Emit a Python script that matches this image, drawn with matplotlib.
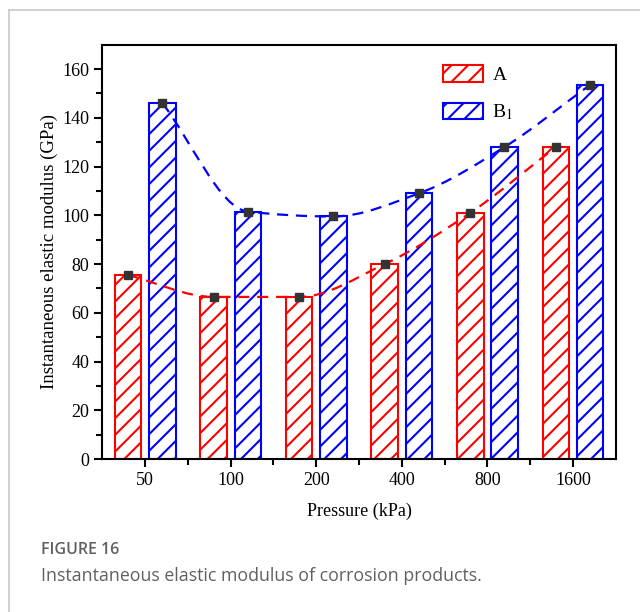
import numpy as np
import matplotlib
matplotlib.use("Agg")
import matplotlib.pyplot as plt
from matplotlib.path import Path
from matplotlib.patches import PathPatch
from matplotlib.lines import Line2D

# data
pressures = ["50", "100", "200", "400", "800", "1600"]
modulus_A = [75.5, 66.5, 66.5, 80.0, 101.0, 128.0]
modulus_B1 = [146.0, 101.5, 99.5, 109.0, 128.0, 153.5]

plt.rcParams["font.family"] = ["Liberation Serif", "DejaVu Serif"]
plt.rcParams["mathtext.fontset"] = "stix"
plt.rcParams["hatch.linewidth"] = 1.5


def smooth_path(xs, ys):
    # monotone cubic curve through the points, as bezier segments
    xs = np.asarray(xs, float)
    ys = np.asarray(ys, float)
    h = np.diff(xs)
    d = np.diff(ys) / h
    m = np.zeros(len(xs))
    m[0], m[-1] = d[0], d[-1]
    for i in range(1, len(xs) - 1):
        if d[i - 1] * d[i] > 0:
            m[i] = 2.0 / (1.0 / d[i - 1] + 1.0 / d[i])
    verts = [(xs[0], ys[0])]
    codes = [Path.MOVETO]
    for i in range(len(xs) - 1):
        verts += [(xs[i] + h[i] / 3, ys[i] + m[i] * h[i] / 3),
                  (xs[i + 1] - h[i] / 3, ys[i + 1] - m[i + 1] * h[i] / 3),
                  (xs[i + 1], ys[i + 1])]
        codes += [Path.CURVE4] * 3
    return Path(verts, codes)


fig = plt.figure(figsize=(6.4, 6.12), dpi=100)
ax = fig.add_axes([0.160, 0.250, 0.802, 0.677])

x = np.arange(len(pressures))
w = 0.31
off = 0.2

ax.bar(x - off, modulus_A, w, facecolor="white", edgecolor="#ff0000",
       hatch="//", linewidth=1.5, label="A", zorder=2)
ax.bar(x + off, modulus_B1, w, facecolor="white", edgecolor="#0000ff",
       hatch="//", linewidth=1.5, label="B$_1$", zorder=2)

for xs, ys, c in [(x - off, modulus_A, "#ff0000"), (x + off, modulus_B1, "#0000ff")]:
    ax.add_patch(PathPatch(smooth_path(xs, ys), facecolor="none", edgecolor=c,
                           linewidth=1.6, linestyle=(0, (5, 3.5)), zorder=3))
    ax.plot(xs, ys, "s", color="#333333", markersize=6, zorder=4)

ax.set_xlim(-0.5, 5.5)
ax.set_ylim(0, 170)
ax.set_xticks(x)
ax.set_xticklabels(pressures)
ax.set_xticks(x[:-1] + 0.5, minor=True)
ax.set_yticks(np.arange(0, 161, 20))
ax.set_yticks(np.arange(10, 170, 20), minor=True)
ax.tick_params(which="both", direction="out", width=1.5, labelsize=13, colors="black")
ax.tick_params(which="major", length=6)
ax.tick_params(which="minor", length=4)
for s in ax.spines.values():
    s.set_linewidth(1.5)

ax.set_xlabel("Pressure (kPa)", fontsize=13, labelpad=10)
ax.set_ylabel("Instantaneous elastic modulus (GPa)", fontsize=13.5, labelpad=3)

leg = ax.legend(loc="upper left", bbox_to_anchor=(0.692, 0.893), bbox_transform=fig.transFigure,
                frameon=False, fontsize=14, handlelength=2.05, handleheight=0.9,
                labelspacing=0.95, handletextpad=0.5, borderpad=0, borderaxespad=0)

# page frame and caption
fig.add_artist(Line2D([9 / 640, 1.0], [1 - 10 / 612, 1 - 10 / 612], color="#c8c8c8", linewidth=1.2))
fig.add_artist(Line2D([9 / 640, 9 / 640], [0.0, 1 - 10 / 612], color="#c8c8c8", linewidth=1.2))
fig.text(41 / 640, 1 - 550 / 612, "FIGURE 16", fontsize=11.5, family="Open Sans",
         weight="semibold", color="#606060", va="center")
fig.text(41 / 640, 1 - 576 / 612, "Instantaneous elastic modulus of corrosion products.",
         fontsize=12.8, family="Open Sans", color="#606060", va="center")

fig.savefig("out.png", dpi=100)
